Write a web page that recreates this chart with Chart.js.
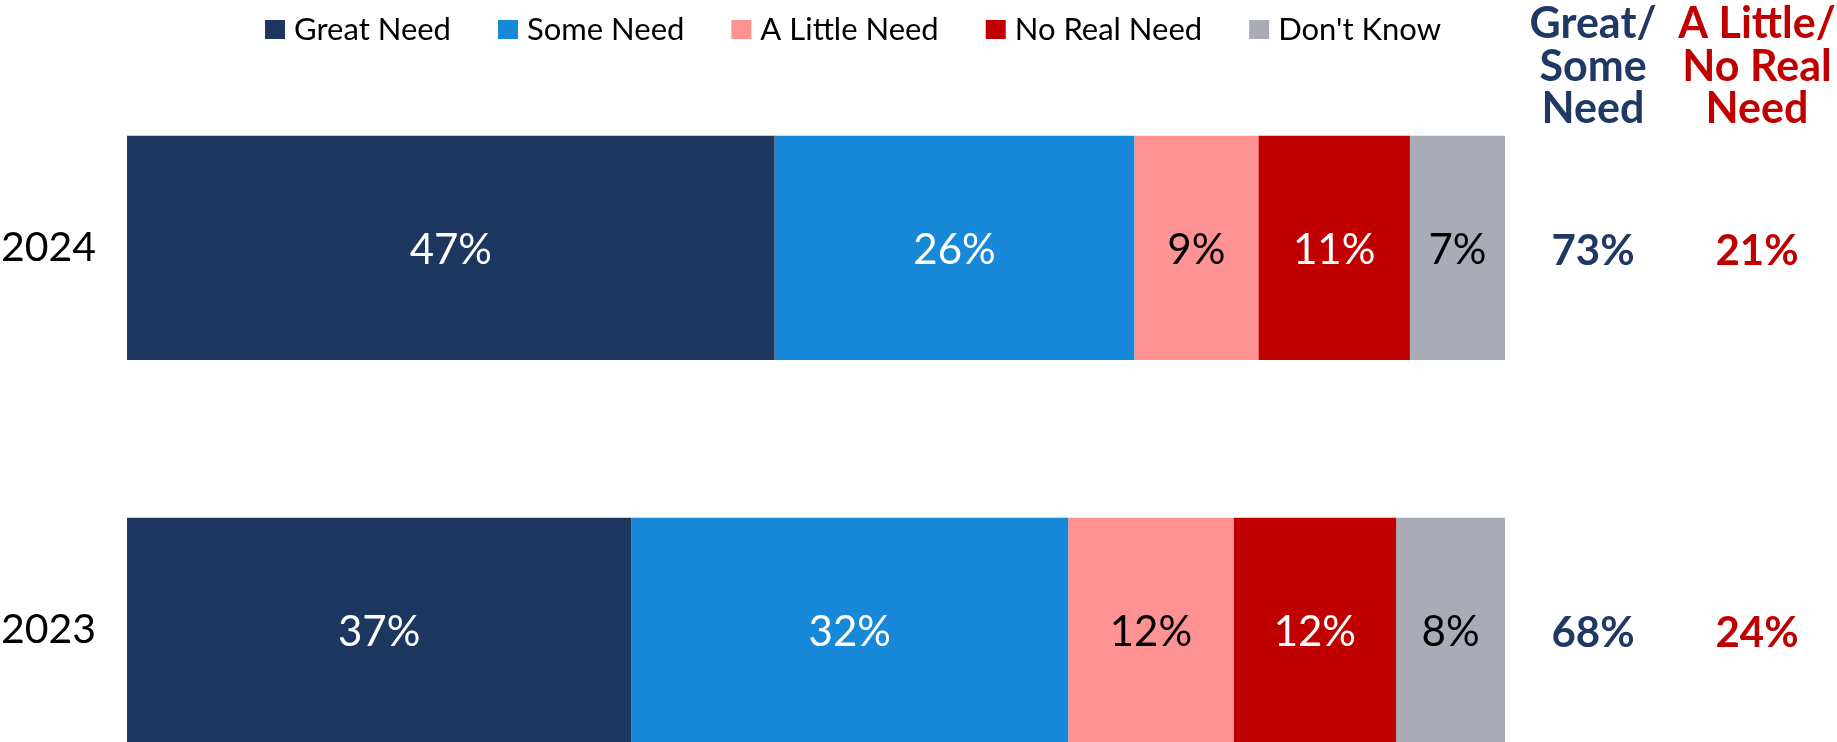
<!DOCTYPE html>
<html>
<head>
<meta charset="utf-8">
<script src="https://cdn.jsdelivr.net/npm/chart.js@4.4.1/dist/chart.umd.min.js"></script>
<style>
  html, body { margin: 0; padding: 0; background: #fff; overflow: hidden; }
  canvas { display: block; }
</style>
</head>
<body>
<!-- taller than the window: the lower bar runs off the bottom edge, as in the source image -->
<canvas id="need-chart" width="1837" height="821"></canvas>
<script>
// values
const years = ["2024", "2023"];
const seriesNames = ["Great Need", "Some Need", "A Little Need", "No Real Need", "Don't Know"];
const greatNeed = [47.0, 36.6];
const someNeed = [26.1, 31.7];
const littleNeed = [9.0, 12.0];
const noRealNeed = [11.0, 11.8];
const dontKnow = [6.9, 7.9];
const greatSomeNet = [73, 68];
const littleNoNet = [21, 24];
const netHeaders = [["Great/", "Some", "Need"], ["A Little/", "No Real", "Need"]];

const seriesColors = ["#1D3660", "#1888D8", "#FF9393", "#C00000", "#A9ABB7"];
const labelColors = ["#FFFFFF", "#FFFFFF", "#000000", "#FFFFFF", "#000000"];
const navy = "#1F3864";
const red = "#C00000";

const FONT = "Lato";

// percentage labels in the middle of each segment
const barLabels = {
  id: "barLabels",
  afterDatasetsDraw(chart) {
    const ctx = chart.ctx;
    ctx.save();
    ctx.font = "42px " + FONT;
    ctx.textAlign = "center";
    ctx.textBaseline = "alphabetic";
    chart.data.datasets.forEach((ds, i) => {
      chart.getDatasetMeta(i).data.forEach((bar, j) => {
        const c = bar.getCenterPoint();
        ctx.fillStyle = labelColors[i];
        ctx.fillText(Math.round(ds.data[j]) + "%", c.x, c.y + 16);
      });
    });
    ctx.restore();
  },
};

// legend row at the top, drawn by hand so spacing matches
const topLegend = {
  id: "topLegend",
  afterDraw(chart) {
    const ctx = chart.ctx;
    const box = 20, gap = 9, pad = 47;
    ctx.save();
    ctx.font = "31px " + FONT;
    ctx.textBaseline = "alphabetic";
    ctx.textAlign = "left";
    const items = chart.data.datasets.map((ds) => ({
      text: ds.label,
      color: ds.backgroundColor,
      w: ctx.measureText(ds.label).width,
    }));
    const total = items.reduce((s, it) => s + box + gap + it.w, 0) + pad * (items.length - 1);
    let x = 853 - total / 2;
    items.forEach((it) => {
      ctx.fillStyle = it.color;
      ctx.fillRect(x, 20, box, 19);
      ctx.fillStyle = "#000";
      ctx.fillText(it.text, x + box + gap, 40);
      x += box + gap + it.w + pad;
    });
    ctx.restore();
  },
};

// net columns on the right
const netColumns = {
  id: "netColumns",
  afterDraw(chart) {
    const ctx = chart.ctx;
    const yScale = chart.scales.y;
    const right = chart.chartArea.right;
    const cols = [
      { x: right + 88, color: navy, values: greatSomeNet, head: netHeaders[0] },
      { x: right + 252, color: red, values: littleNoNet, head: netHeaders[1] },
    ];
    ctx.save();
    ctx.textAlign = "center";
    ctx.textBaseline = "alphabetic";
    cols.forEach((col) => {
      ctx.fillStyle = col.color;
      ctx.font = "bold 43px " + FONT;
      col.head.forEach((line, k) => {
        ctx.fillText(line, col.x, 38 + k * 42.5);
      });
      ctx.font = "bold 42px " + FONT;
      col.values.forEach((v, j) => {
        ctx.fillText(v + "%", col.x, yScale.getPixelForValue(j) + 17);
      });
    });
    ctx.restore();
  },
};

const seriesData = [greatNeed, someNeed, littleNeed, noRealNeed, dontKnow];

new Chart(document.getElementById("need-chart"), {
  type: "bar",
  data: {
    labels: years,
    datasets: seriesData.map((d, i) => ({
      label: seriesNames[i],
      data: d,
      backgroundColor: seriesColors[i],
      borderWidth: 0,
      barPercentage: 0.587,
      categoryPercentage: 1,
    })),
  },
  options: {
    indexAxis: "y",
    responsive: false,
    devicePixelRatio: 1,
    animation: false,
    layout: {
      padding: { top: 57, right: 332, left: 0, bottom: 0 },
    },
    plugins: {
      legend: { display: false },
      tooltip: { enabled: false },
    },
    scales: {
      x: {
        stacked: true,
        min: 0,
        max: 100,
        display: false,
      },
      y: {
        stacked: true,
        // tickLength only sets the label gap; lineHeight/padding kept tiny so the
        // axis asks for no extra room above or below the bars
        grid: { display: false, tickLength: 31 },
        border: { display: false },
        ticks: {
          color: "#000",
          padding: 0,
          font: { family: FONT, size: 41, lineHeight: 0.01 },
        },
        afterFit(scale) {
          scale.width = 127;
        },
      },
    },
  },
  plugins: [barLabels, topLegend, netColumns],
});
</script>
</body>
</html>
